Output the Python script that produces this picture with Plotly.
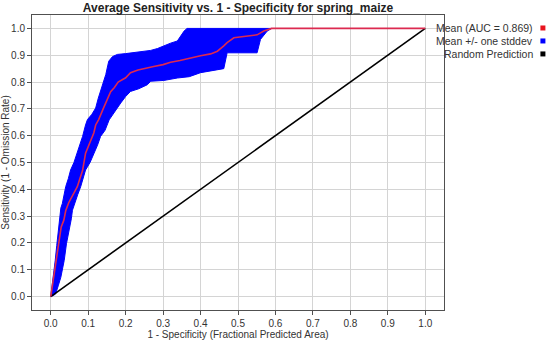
import plotly.graph_objects as go

# mean ROC curve (1 - specificity, sensitivity)
mean_x = [0, 0.005, 0.012, 0.018, 0.022, 0.028, 0.035, 0.04, 0.048, 0.055, 0.062, 0.071,
          0.078, 0.085, 0.093, 0.1, 0.108, 0.115, 0.12, 0.128, 0.14, 0.15, 0.16, 0.17, 0.18,
          0.2, 0.213, 0.233, 0.253, 0.275, 0.3, 0.32, 0.345, 0.373, 0.4, 0.427, 0.445, 0.462,
          0.471, 0.489, 0.51, 0.535, 0.551, 0.569, 0.59, 1.0]
mean_y = [0, 0.05, 0.12, 0.18, 0.22, 0.26, 0.285, 0.32, 0.35, 0.37, 0.39, 0.41,
          0.44, 0.47, 0.535, 0.56, 0.59, 0.61, 0.64, 0.66, 0.7, 0.73, 0.764, 0.78, 0.8,
          0.816, 0.835, 0.845, 0.85, 0.858, 0.865, 0.874, 0.88, 0.89, 0.898, 0.905, 0.915, 0.935,
          0.947, 0.965, 0.968, 0.972, 0.976, 0.99, 1.0, 1.0]

# mean + one stddev (upper edge of band)
upper_x = [0, 0.003, 0.005, 0.008, 0.012, 0.016, 0.02, 0.024, 0.027, 0.031, 0.036, 0.04,
           0.047, 0.053, 0.062, 0.071, 0.078, 0.085, 0.093, 0.098, 0.11, 0.12, 0.127, 0.133,
           0.14, 0.147, 0.152, 0.155, 0.165, 0.178, 0.2, 0.218, 0.253, 0.267, 0.285, 0.302,
           0.32, 0.338, 0.35, 0.356, 0.364, 0.59]
upper_y = [0, 0.03, 0.06, 0.1, 0.135, 0.19, 0.247, 0.3, 0.33, 0.347, 0.38, 0.41,
           0.44, 0.472, 0.5, 0.535, 0.565, 0.597, 0.64, 0.66, 0.68, 0.703, 0.74, 0.765,
           0.8, 0.828, 0.86, 0.878, 0.895, 0.903, 0.906, 0.909, 0.915, 0.918, 0.925, 0.936,
           0.945, 0.953, 0.975, 0.99, 1.0, 1.0]

# mean - one stddev (lower edge of band)
lower_x = [0, 0.008, 0.013, 0.02, 0.027, 0.032, 0.036, 0.042, 0.046, 0.051, 0.055, 0.058,
           0.065, 0.072, 0.08, 0.087, 0.093, 0.105, 0.116, 0.125, 0.133, 0.145, 0.156, 0.165,
           0.178, 0.187, 0.2, 0.213, 0.235, 0.258, 0.267, 0.302, 0.338, 0.37, 0.4, 0.444,
           0.462, 0.471, 0.52, 0.551, 0.56, 0.578, 0.59]
lower_y = [0, 0.005, 0.01, 0.04, 0.072, 0.1, 0.135, 0.197, 0.23, 0.26, 0.29, 0.322,
           0.35, 0.38, 0.41, 0.44, 0.472, 0.5, 0.535, 0.565, 0.597, 0.62, 0.659, 0.68,
           0.703, 0.722, 0.746, 0.765, 0.775, 0.79, 0.803, 0.806, 0.815, 0.82, 0.835, 0.846,
           0.85, 0.909, 0.909, 0.909, 0.959, 0.99, 1.0]

random_x = [0, 1]
random_y = [0, 1]

title = "Average Sensitivity vs. 1 - Specificity for spring_maize"
legend_labels = ["Mean (AUC = 0.869)", "Mean +/- one stddev", "Random Prediction"]
legend_colors = ["#E8141E", "#0000FF", "#000000"]
ticks = [0, 0.1, 0.2, 0.3, 0.4, 0.5, 0.6, 0.7, 0.8, 0.9, 1.0]
tick_text = ["%.1f" % t for t in ticks]

band_x = upper_x + lower_x[::-1]
band_y = upper_y + lower_y[::-1]

fig = go.Figure()
fig.add_trace(go.Scatter(x=band_x, y=band_y, mode="lines", fill="toself",
                         fillcolor="#0000FF", line=dict(color="#0000FF", width=1),
                         hoverinfo="skip"))
fig.add_trace(go.Scatter(x=random_x, y=random_y, mode="lines",
                         line=dict(color="#000000", width=1.6)))
fig.add_trace(go.Scatter(x=mean_x, y=mean_y, mode="lines",
                         line=dict(color="#DC2A50", width=1.6)))

font = "Liberation Sans, Arial, sans-serif"
axis_common = dict(range=[-0.05, 1.05], tickvals=ticks, ticktext=tick_text,
                   showgrid=True, gridcolor="#D4D4D4", gridwidth=1, zeroline=False,
                   showline=True, linecolor="#505050", linewidth=1, mirror=True,
                   ticks="outside", ticklen=4, tickcolor="#505050", automargin=False,
                   tickfont=dict(family=font, size=10, color="#333333"))

fig.update_layout(
    width=550, height=345,
    margin=dict(l=32, r=106, t=15, b=35),
    paper_bgcolor="white", plot_bgcolor="white",
    showlegend=False,
    title=dict(text="<b>" + title + "</b>", x=238 / 550, xanchor="center",
               y=1 - 7.5 / 345, yanchor="middle",
               font=dict(family=font, size=12, color="#222222")),
    xaxis=dict(axis_common,
               title=dict(text="1 - Specificity (Fractional Predicted Area)", standoff=2,
                          font=dict(family=font, size=10, color="#333333"))),
    yaxis=dict(axis_common,
               title=dict(text="Sensitivity (1 - Omission Rate)", standoff=0,
                          font=dict(family=font, size=10, color="#333333"))),
    # inside ticks along the top edge
    xaxis2=dict(overlaying="x", matches="x", side="top", tickvals=ticks,
                showticklabels=False, ticks="inside", ticklen=4, tickcolor="#505050",
                showgrid=False, zeroline=False, range=[-0.05, 1.05], automargin=False),
)

# legend on the right: text then coloured square
row_y = [0.956, 0.912, 0.868]
for label, color, yy in zip(legend_labels, legend_colors, row_y):
    fig.add_annotation(x=1.222, y=yy, xref="paper", yref="paper", text=label,
                       showarrow=False, xanchor="right", yanchor="middle",
                       font=dict(family=font, size=10.5, color="#333333"))
    fig.add_shape(type="rect", xref="paper", yref="paper",
                  x0=1.234, x1=1.234 + 5 / 412, y0=yy - 2.5 / 295, y1=yy + 2.5 / 295,
                  fillcolor=color, line=dict(width=0))

fig.write_html("out.html", config={"displayModeBar": False},
               post_script="document.body.style.margin='0px';")
